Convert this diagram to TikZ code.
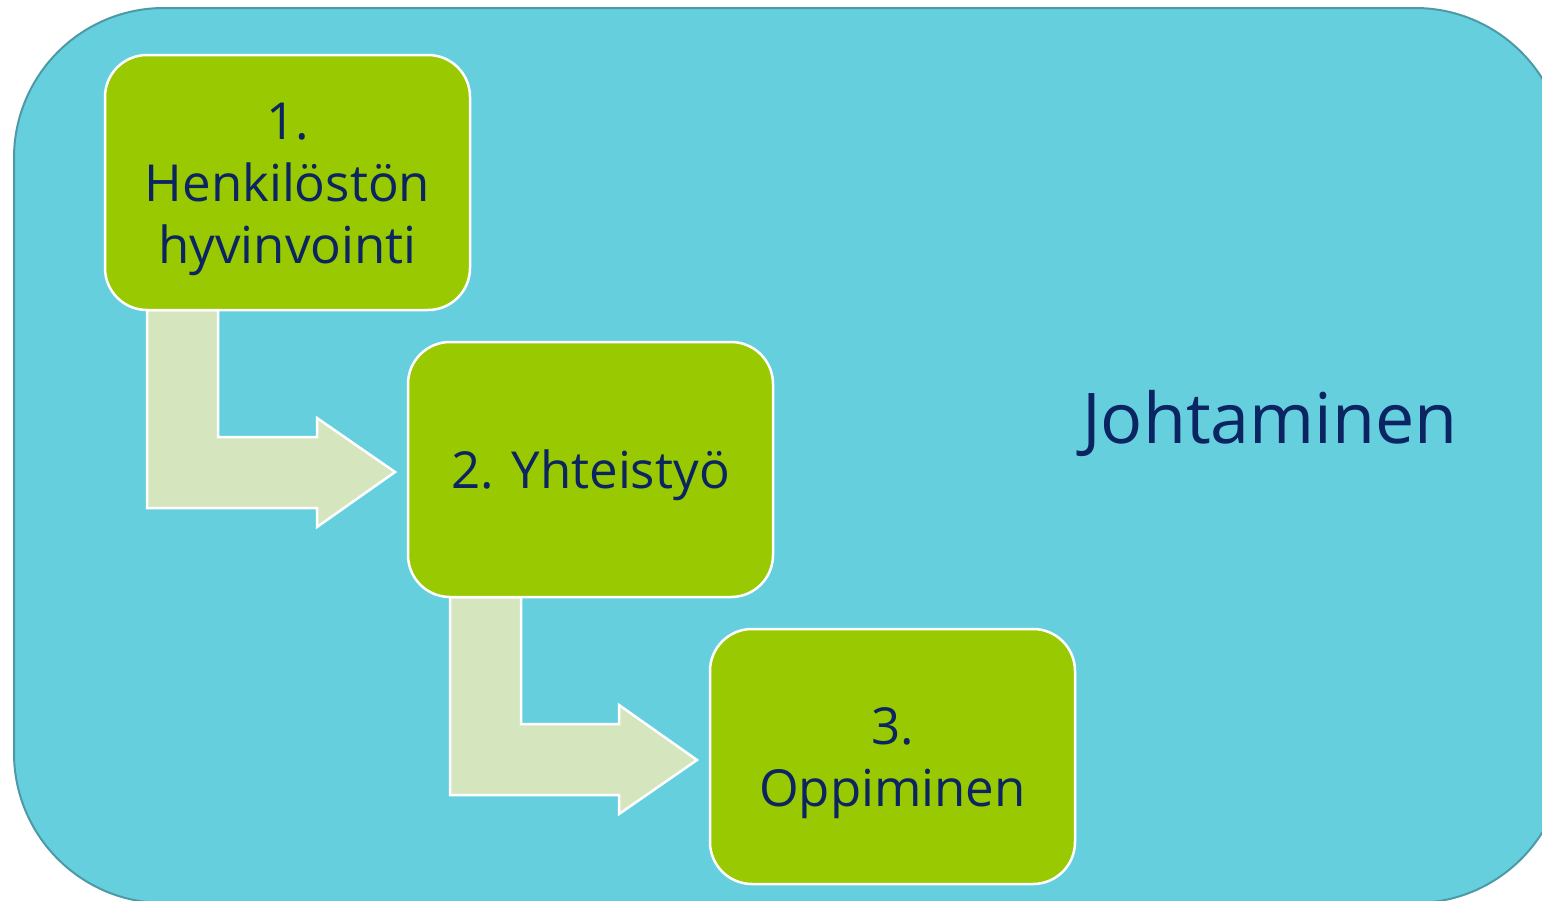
\documentclass[tikz,border=0pt]{standalone}
\usepackage{fontspec}
\setmainfont{Open Sans}
\usetikzlibrary{calc}
\definecolor{bgteal}{HTML}{66CFDD}
\definecolor{bgedge}{HTML}{4C9AA6}
\definecolor{boxgreen}{HTML}{99C900}
\definecolor{arrowfill}{HTML}{D5E6BF}
\definecolor{navy}{HTML}{0B2462}
\begin{document}
\begin{tikzpicture}[x=1pt,y=-1pt,
  stepbox/.style={draw=white, line width=2.5pt, fill=boxgreen, rounded corners=42pt,
    minimum width=365pt, minimum height=255pt, inner sep=0pt},
  steptext/.style={align=center, text=navy, font=\fontsize{51}{62}\selectfont, inner sep=0pt},
  bentarrow/.style={draw=white, line width=2.5pt, fill=arrowfill, line join=miter}]
\useasboundingbox (0,0) rectangle (1542,900);
\begin{scope}
\clip (0,0) rectangle (1542,900);
\draw[fill=bgteal, draw=bgedge, line width=2pt, rounded corners=150pt] (14,8) rectangle (1565,903);
\end{scope}
% arrows (behind boxes)
\coordinate (a1) at (147,310);
\draw[bentarrow] (a1) -- ++(71,0) -- ++(0,127) -- ++(99,0) -- ++(0,-19) -- ++(78,54) -- ++(-78,55) -- ++(0,-19) -- ++(-170,0) -- cycle;
\coordinate (a2) at (450,597);
\draw[bentarrow] (a2) -- ++(71,0) -- ++(0,127) -- ++(98,0) -- ++(0,-19) -- ++(78,55) -- ++(-78,54) -- ++(0,-19) -- ++(-169,0) -- cycle;
% boxes
\node[stepbox] (b1) at (287.5,182.5) {};
\node[stepbox] (b2) at (590.5,469.5) {};
\node[stepbox] (b3) at (892.5,756.5) {};
\node[steptext] (t1) at ($(b1.center)+(0,7)$) {1.\\Henkilöstön\\hyvinvointi};
\node[steptext] (t2) at ($(b2.center)+(0,6)$) {2. Yhteistyö};
\node[steptext] (t3) at ($(b3.center)+(0,7)$) {3.\\Oppiminen};
\node[anchor=base, text=navy, font=\fontsize{70}{84}\selectfont, inner sep=0pt] (lead) at (1270,443) {Johtaminen};
\end{tikzpicture}
\end{document}
